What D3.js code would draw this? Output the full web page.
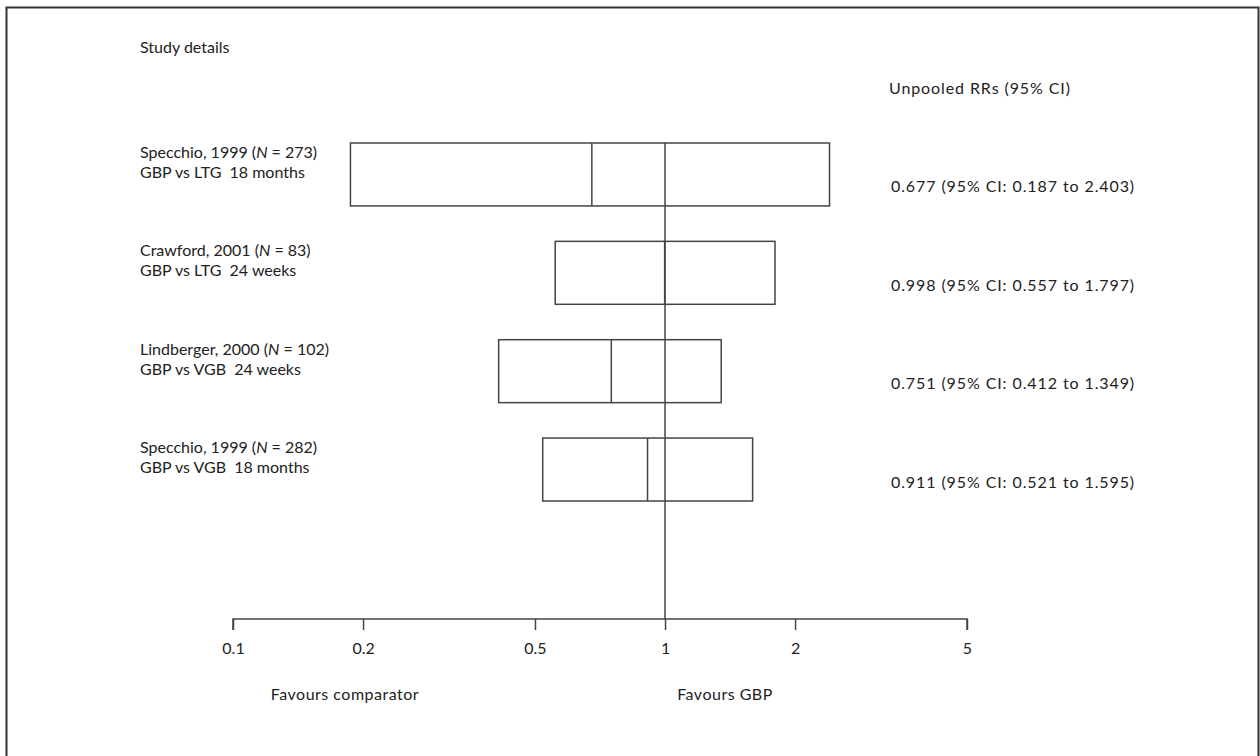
<!DOCTYPE html>
<html><head><meta charset="utf-8">
<script src="https://cdn.jsdelivr.net/npm/d3@7"></script>
<style>
html,body{margin:0;padding:0;background:#fff;}
svg text{font-family:"Lato","Open Sans",sans-serif;fill:#222;font-size:16px;}
</style></head>
<body>
<svg id="chart" width="1260" height="756"></svg>
<script>
const studies = ["Specchio, 1999", "Crawford, 2001", "Lindberger, 2000", "Specchio, 1999"];
const sampleSizes = [273, 83, 102, 282];
const comparisons = ["GBP vs LTG  18 months", "GBP vs LTG  24 weeks", "GBP vs VGB  24 weeks", "GBP vs VGB  18 months"];
const estimates = [0.677, 0.998, 0.751, 0.911];
const lowerCI = [0.187, 0.557, 0.412, 0.521];
const upperCI = [2.403, 1.797, 1.349, 1.595];
const tickValues = [0.1, 0.2, 0.5, 1, 2, 5];
const tickLabels = ["0.1", "0.2", "0.5", "1", "2", "5"];

const svg = d3.select("#chart");
const stroke = "#444";

// frame (open at bottom)
svg.append("path").attr("d", "M6.5,756 V7.5 H1258.5 V756")
  .attr("fill", "none").attr("stroke", "#333").attr("stroke-width", 2);

const x = d3.scaleLog().domain([0.1, 5]).range([233, 967]);
const y = d3.scaleBand().domain(d3.range(studies.length)).range([143, 501]).paddingInner(0.36).paddingOuter(0);

const axisY = 619;

// reference line at 1
svg.append("line").attr("x1", x(1)).attr("x2", x(1)).attr("y1", y(0)).attr("y2", axisY)
  .attr("stroke", stroke).attr("stroke-width", 1.5);

const rows = svg.selectAll("g.row").data(d3.range(studies.length)).join("g").attr("class", "row");
rows.append("rect")
  .attr("x", i => x(lowerCI[i])).attr("y", i => y(i))
  .attr("width", i => x(upperCI[i]) - x(lowerCI[i])).attr("height", y.bandwidth())
  .attr("fill", "none").attr("stroke", stroke).attr("stroke-width", 1.5);
rows.append("line")
  .attr("x1", i => x(estimates[i])).attr("x2", i => x(estimates[i]))
  .attr("y1", i => y(i)).attr("y2", i => y(i) + y.bandwidth())
  .attr("stroke", stroke).attr("stroke-width", 1.5);

// labels
const lab = rows.append("text").attr("x", 140).attr("y", i => y(i) + 15);
lab.append("tspan").text(i => studies[i] + " (");
lab.append("tspan").style("font-style", "italic").text("N");
lab.append("tspan").text(i => " = " + sampleSizes[i] + ")");
rows.append("text").attr("x", 140).attr("y", i => y(i) + 35)
  .attr("xml:space", "preserve").text(i => comparisons[i]);

rows.append("text").attr("x", 891).attr("y", i => y(i) + y.bandwidth() / 2 + 18)
  .style("letter-spacing", "0.9px")
  .text(i => `${estimates[i].toFixed(3)} (95% CI: ${lowerCI[i].toFixed(3)} to ${upperCI[i].toFixed(3)})`);

// headers
svg.append("text").attr("x", 140).attr("y", 53).text("Study details");
svg.append("text").attr("x", 889).attr("y", 94).style("letter-spacing", "0.9px").text("Unpooled RRs (95% CI)");

// axis
const axis = d3.axisBottom(x).tickValues(tickValues).tickFormat((d, i) => tickLabels[i]).tickSize(11).tickPadding(13);
const ag = svg.append("g").attr("transform", `translate(0,${axisY})`).call(axis);
ag.select(".domain").attr("d", `M${x(0.1)},11V0H${x(5)}V11`).attr("stroke", stroke).attr("stroke-width", 1.5);
ag.selectAll(".tick line").attr("stroke", stroke).attr("stroke-width", 1.5);
ag.selectAll(".tick text").style("font-size", "16px").style("font-family", "Lato, 'Open Sans', sans-serif").attr("fill", "#222");

svg.append("text").attr("x", 345).attr("y", 700).attr("text-anchor", "middle").style("letter-spacing", "0.5px").text("Favours comparator");
svg.append("text").attr("x", 725).attr("y", 700).attr("text-anchor", "middle").style("letter-spacing", "0.5px").text("Favours GBP");
</script>
</body></html>
